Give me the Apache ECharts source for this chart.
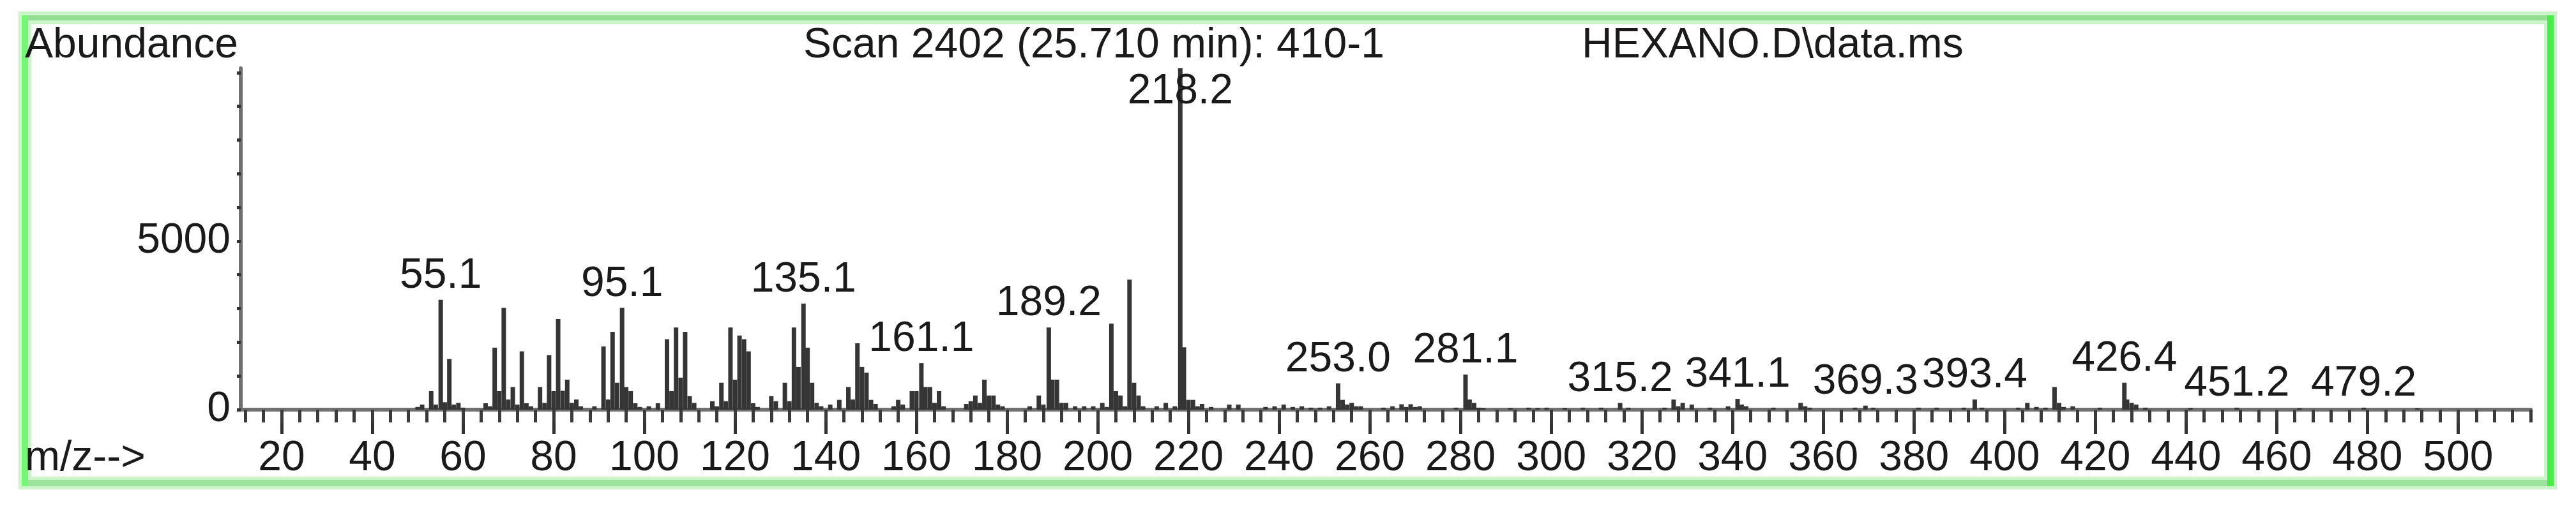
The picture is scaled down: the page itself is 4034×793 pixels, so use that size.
<!DOCTYPE html>
<html>
<head>
<meta charset="utf-8">
<title>Scan 2402 (25.710 min): 410-1</title>
<script src="https://cdn.jsdelivr.net/npm/echarts@6/dist/echarts.min.js"></script>
<style>
  html, body { margin: 0; padding: 0; background: #fff; }
  #chart { width: 4034px; height: 793px; }
</style>
</head>
<body>
<div id="chart"></div>
<script>
// peaks: m/z and abundance
var peakMz = [
  50, 51, 53, 54, 55.1, 56, 57, 58, 59, 60, 65, 66, 67, 68, 69, 70, 71, 72, 73, 74, 75, 77, 78, 79, 80,
  81, 82, 83, 84, 85, 86, 89, 91, 92, 93, 94, 95.1, 96, 97, 98, 99, 101, 103, 105, 106, 107, 108, 109, 110,
  111, 115, 116, 117, 118, 119, 120, 121, 122, 123, 124, 125, 128, 129, 131, 132, 133, 134, 135.1, 136, 137,
  138, 139, 141, 143, 145, 146, 147, 148, 149, 150, 151, 155, 156, 157, 159, 160, 161.1, 162, 163, 164, 165,
  166, 171, 172, 173, 174, 175, 176, 177, 178, 179, 185, 187, 188, 189.2, 190, 191, 192, 193, 195, 197, 199,
  201, 202, 203, 204, 205, 206, 207, 208, 209, 210, 213, 215, 217, 218.2, 219, 220, 221, 222, 223, 225, 229,
  231, 237, 239, 241, 243, 245, 247, 249, 251, 253.0, 254, 255, 256, 257, 258, 263, 265, 267, 268, 269, 270,
  271, 279, 281.1, 282, 283, 284, 285, 291, 295, 297, 299, 303, 307, 311, 315.2, 317, 325, 327, 328, 329, 331,
  335, 339, 341.1, 342, 343, 349, 355, 356, 357, 367, 369.3, 371, 381, 385, 391, 393.4, 395, 403, 405, 407,
  409, 411, 412, 413, 415, 421, 426.4, 427, 428, 429, 431, 441, 451.2, 465, 479.2, 491
];
var peakAbundance = [
  80, 150, 550, 150, 3260, 220, 1500, 150, 200, 60, 190, 100, 1840, 550, 3020, 300, 670, 150, 1730, 190, 100, 670, 200, 1620, 550,
  2690, 560, 890, 200, 300, 100, 100, 1875, 300, 2310, 800, 3020, 670, 550, 190, 80, 100, 190, 2090, 550, 2440, 950, 2310, 400,
  200, 250, 100, 800, 250, 2440, 890, 2200, 2090, 1730, 190, 80, 400, 250, 800, 250, 2440, 1270, 3150, 1840, 800,
  200, 100, 150, 290, 670, 300, 1970, 1270, 1100, 290, 170, 100, 290, 150, 550, 550, 1380, 670, 670, 200, 550,
  100, 170, 250, 420, 200, 890, 420, 420, 150, 100, 100, 420, 150, 2440, 890, 890, 200, 200, 100, 100, 100,
  200, 80, 2550, 550, 420, 100, 3860, 800, 420, 100, 100, 200, 100, 10130, 1850, 290, 290, 100, 170, 80, 150,
  150, 80, 100, 150, 80, 100, 60, 60, 100, 780, 290, 150, 200, 100, 100, 60, 100, 160, 80, 160, 80,
  100, 60, 1040, 300, 200, 60, 50, 50, 60, 50, 60, 50, 60, 60, 200, 60, 60, 300, 100, 200, 150,
  60, 100, 320, 150, 100, 60, 200, 100, 60, 60, 120, 60, 60, 60, 60, 300, 60, 60, 200, 80,
  60, 670, 200, 80, 100, 60, 800, 300, 200, 150, 60, 50, 60, 40, 60, 40
];
// peaks that carry an m/z label
var labelledMz = [55.1, 95.1, 135.1, 161.1, 189.2, 218.2, 253.0, 281.1, 315.2, 341.1, 369.3, 393.4, 426.4, 451.2, 479.2];
var basePeakMz = 218.2;

var xTickLabels = [20, 40, 60, 80, 100, 120, 140, 160, 180, 200, 220, 240, 260, 280, 300, 320, 340, 360, 380, 400, 420, 440, 460, 480, 500];
var yTickLabels = [0, 5000];
var xMin = 11, xMax = 516;
var yMax = 10130;

var font = 'Liberation Sans, Arial, sans-serif';
var textColor = '#1a1a1a';

var xMinorTicks = [];
for (var t = 12; t <= xMax; t += 4) xMinorTicks.push(t);
var yMinorTicks = [];
for (var v = 0; v <= 10000; v += 1000) yMinorTicks.push(v);

var data = peakMz.map(function (mz, i) {
  var item = { value: [mz, peakAbundance[i]] };
  if (labelledMz.indexOf(mz) >= 0) {
    item.label = {
      show: true,
      formatter: mz.toFixed(1),
      position: mz === basePeakMz ? 'insideTop' : 'top',
      distance: 4
    };
  }
  return item;
});

var chart = echarts.init(document.getElementById('chart'));
chart.setOption({
  animation: false,
  backgroundColor: '#ffffff',
  title: [
    { text: 'Abundance', left: 39, top: 39 },
    { text: 'Scan 2402 (25.710 min): 410-1', left: 1258, top: 39 },
    { text: 'HEXANO.D\\data.ms', left: 2477, top: 39 },
    { text: 'm/z-->', left: 39, top: 686 }
  ].map(function (t) {
    t.padding = 0;
    t.textStyle = { fontFamily: font, fontSize: 66, fontWeight: 'normal', color: textColor };
    return t;
  }),
  grid: { left: 377, right: 71, top: 107, bottom: 151 },
  xAxis: [{
    type: 'value',
    min: xMin,
    max: xMax,
    position: 'bottom',
    splitLine: { show: false },
    axisLine: { onZero: false, lineStyle: { color: '#707070', width: 6 } },
    axisTick: { customValues: xTickLabels, length: 38, lineStyle: { color: '#333', width: 5 } },
    axisLabel: { customValues: xTickLabels, margin: 44, fontFamily: font, fontSize: 66, color: textColor }
  }, {
    type: 'value',
    min: xMin,
    max: xMax,
    position: 'bottom',
    splitLine: { show: false },
    axisLine: { show: false },
    axisTick: { customValues: xMinorTicks, length: 20, lineStyle: { color: '#3a3a3a', width: 5 } },
    axisLabel: { show: false }
  }],
  yAxis: {
    type: 'value',
    min: 0,
    max: yMax,
    splitLine: { show: false },
    axisLine: { show: true, lineStyle: { color: '#707070', width: 6 } },
    axisTick: { customValues: yMinorTicks, length: 6, lineStyle: { color: '#333', width: 5 } },
    axisLabel: {
      customValues: yTickLabels, margin: 16, fontFamily: font, fontSize: 66, color: textColor,
      formatter: function (val) { return String(val); }
    }
  },
  series: [{
    type: 'bar',
    xAxisIndex: 0,
    barWidth: 7,
    itemStyle: { color: '#353535' },
    label: { fontFamily: font, fontSize: 66, color: textColor },
    data: data
  }],
  graphic: [
    { type: 'rect', silent: true, z: -10, shape: { x: 39, y: 28, width: 3955, height: 729 },
      style: { fill: 'none', stroke: '#c9f5c9', lineWidth: 20 } },
    { type: 'line', silent: true, shape: { x1: 39, y1: 28, x2: 3994, y2: 28 }, style: { stroke: '#93de93', lineWidth: 8 } },
    { type: 'line', silent: true, shape: { x1: 39, y1: 757, x2: 3994, y2: 757 }, style: { stroke: '#9de29d', lineWidth: 10 } },
    { type: 'line', silent: true, shape: { x1: 39, y1: 24, x2: 39, y2: 762 }, style: { stroke: '#77f577', lineWidth: 10 } },
    { type: 'line', silent: true, shape: { x1: 3994, y1: 24, x2: 3994, y2: 762 }, style: { stroke: '#4ceb4c', lineWidth: 10 } }
  ]
});
</script>
</body>
</html>
